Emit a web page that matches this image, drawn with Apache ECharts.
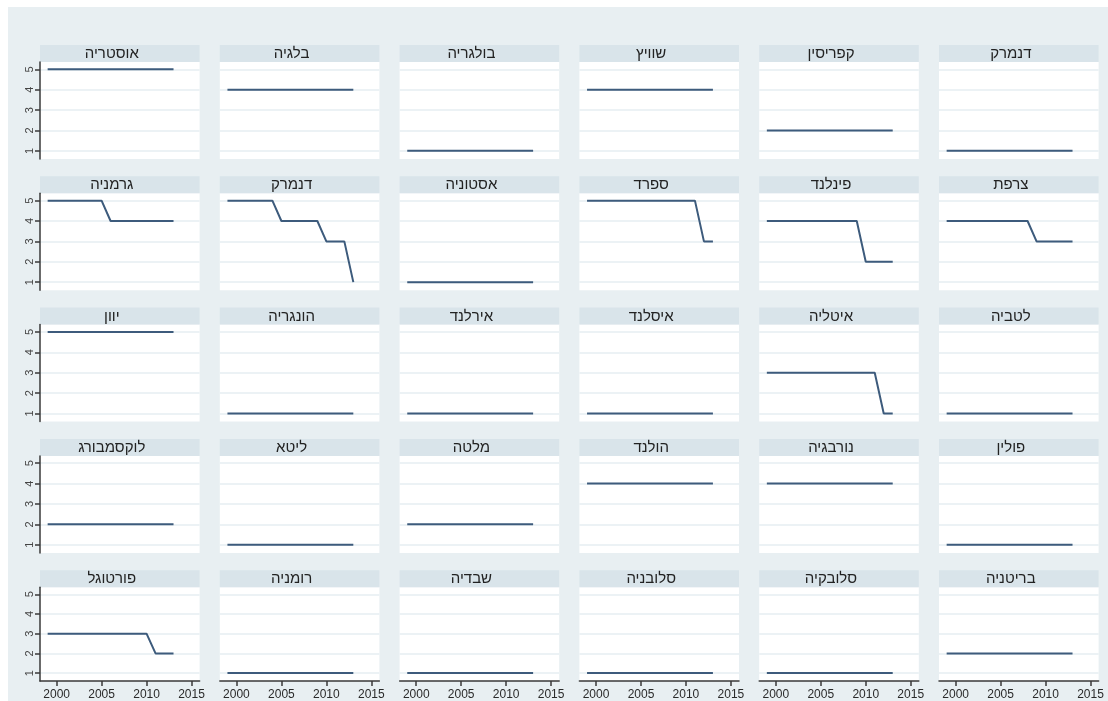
<!DOCTYPE html>
<html><head><meta charset="utf-8">
<script src="https://cdn.jsdelivr.net/npm/echarts@6/dist/echarts.min.js"></script>
<style>
html,body{margin:0;padding:0;background:#fff;}
#bg{position:absolute;left:8px;top:7px;width:1100px;height:694px;background:#e8eff2;}
#chart{position:absolute;left:0;top:0;width:1108px;height:701px;}
</style></head><body>
<div id="bg"></div><div id="chart"></div>
<script>
const years = [1999,2000,2001,2002,2003,2004,2005,2006,2007,2008,2009,2010,2011,2012,2013];
const countryNames = [
  'אוסטריה','בלגיה','בולגריה','שוויץ','קפריסין','דנמרק',
  'גרמניה','דנמרק','אסטוניה','ספרד','פינלנד','צרפת',
  'יוון','הונגריה','אירלנד','איסלנד','איטליה','לטביה',
  'לוקסמבורג','ליטא','מלטה','הולנד','נורבגיה','פולין',
  'פורטוגל','רומניה','שבדיה','סלובניה','סלובקיה','בריטניה'
];
const austria    = [5,5,5,5,5,5,5,5,5,5,5,5,5,5,5];
const belgium    = [4,4,4,4,4,4,4,4,4,4,4,4,4,4,4];
const bulgaria   = [1,1,1,1,1,1,1,1,1,1,1,1,1,1,1];
const switzerland= [4,4,4,4,4,4,4,4,4,4,4,4,4,4,4];
const cyprus     = [2,2,2,2,2,2,2,2,2,2,2,2,2,2,2];
const denmarkA   = [1,1,1,1,1,1,1,1,1,1,1,1,1,1,1];
const germany    = [5,5,5,5,5,5,5,4,4,4,4,4,4,4,4];
const denmarkB   = [5,5,5,5,5,5,4,4,4,4,4,3,3,3,1];
const estonia    = [1,1,1,1,1,1,1,1,1,1,1,1,1,1,1];
const spain      = [5,5,5,5,5,5,5,5,5,5,5,5,5,3,3];
const finland    = [4,4,4,4,4,4,4,4,4,4,4,2,2,2,2];
const france     = [4,4,4,4,4,4,4,4,4,4,3,3,3,3,3];
const greece     = [5,5,5,5,5,5,5,5,5,5,5,5,5,5,5];
const hungary    = [1,1,1,1,1,1,1,1,1,1,1,1,1,1,1];
const ireland    = [1,1,1,1,1,1,1,1,1,1,1,1,1,1,1];
const iceland    = [1,1,1,1,1,1,1,1,1,1,1,1,1,1,1];
const italy      = [3,3,3,3,3,3,3,3,3,3,3,3,3,1,1];
const latvia     = [1,1,1,1,1,1,1,1,1,1,1,1,1,1,1];
const luxembourg = [2,2,2,2,2,2,2,2,2,2,2,2,2,2,2];
const lithuania  = [1,1,1,1,1,1,1,1,1,1,1,1,1,1,1];
const malta      = [2,2,2,2,2,2,2,2,2,2,2,2,2,2,2];
const netherlands= [4,4,4,4,4,4,4,4,4,4,4,4,4,4,4];
const norway     = [4,4,4,4,4,4,4,4,4,4,4,4,4,4,4];
const poland     = [1,1,1,1,1,1,1,1,1,1,1,1,1,1,1];
const portugal   = [3,3,3,3,3,3,3,3,3,3,3,3,2,2,2];
const romania    = [1,1,1,1,1,1,1,1,1,1,1,1,1,1,1];
const sweden     = [1,1,1,1,1,1,1,1,1,1,1,1,1,1,1];
const slovenia   = [1,1,1,1,1,1,1,1,1,1,1,1,1,1,1];
const slovakia   = [1,1,1,1,1,1,1,1,1,1,1,1,1,1,1];
const britain    = [2,2,2,2,2,2,2,2,2,2,2,2,2,2,2];
const panelValues = [
  austria,belgium,bulgaria,switzerland,cyprus,denmarkA,
  germany,denmarkB,estonia,spain,finland,france,
  greece,hungary,ireland,iceland,italy,latvia,
  luxembourg,lithuania,malta,netherlands,norway,poland,
  portugal,romania,sweden,slovenia,slovakia,britain
];
const yTicks = [1,2,3,4,5];
const xTicks = [2000,2005,2010,2015];

const FONT = "'Liberation Sans','DejaVu Sans',sans-serif";
const colLeft0 = 40, colStep = 179.8, colW = 159.6;
const rowTop0 = 45, rowStep = 131.3, titleH = 17, plotH = 97;
const lineColor = '#3d5b7c';
const axisColor = '#3a3a3a';

const grids = [], xAxes = [], yAxes = [], series = [], graphics = [];
panelValues.forEach((vals, i) => {
  const r = Math.floor(i / 6), c = i % 6;
  const left = colLeft0 + c * colStep;
  const top = rowTop0 + r * rowStep;
  grids.push({left: left, top: top + titleH, width: colW, height: plotH,
    show: true, backgroundColor: '#ffffff', borderWidth: 0});
  const bottomRow = r === 4, firstCol = c === 0;
  xAxes.push({type: 'value', gridIndex: i, min: 1998.15, max: 2015.9,
    axisLine: {show: bottomRow, lineStyle: {color: axisColor, width: 1.5}},
    axisTick: {show: bottomRow, length: 5, inside: false, customValues: xTicks, lineStyle: {color: axisColor, width: 1.5}},
    axisLabel: {show: bottomRow, customValues: xTicks, fontSize: 12, color: '#2a2a2a', margin: 8, fontFamily: FONT,
      formatter: v => String(Math.round(v))},
    splitLine: {show: false}});
  yAxes.push({type: 'value', gridIndex: i, min: 0.6, max: 5.36,
    axisLine: {show: firstCol, lineStyle: {color: axisColor, width: 1.5}},
    axisTick: {show: firstCol, length: 5, inside: false, customValues: yTicks, lineStyle: {color: axisColor, width: 1.5}},
    axisLabel: {show: firstCol, customValues: yTicks, rotate: 90, fontSize: 11, color: '#444', margin: 5, fontFamily: FONT,
      formatter: v => String(Math.round(v))},
    splitLine: {show: true, lineStyle: {color: '#e6eef2', width: 1.5}}});
  series.push({type: 'line', xAxisIndex: i, yAxisIndex: i, symbol: 'none',
    lineStyle: {color: lineColor, width: 2}, silent: true, animation: false,
    data: years.map((y, k) => [y, vals[k]])});
  graphics.push({type: 'rect', shape: {x: left, y: top, width: colW, height: titleH},
    style: {fill: '#d9e4ea'}, silent: true});
  graphics.push({type: 'text', x: left + colW / 2 - 8, y: top + titleH / 2 + 0.5,
    style: {text: countryNames[i], fill: '#222', font: '15px ' + FONT, textAlign: 'center', textVerticalAlign: 'middle'}, silent: true});
});

const chart = echarts.init(document.getElementById('chart'), null, {renderer: 'canvas'});
chart.setOption({
  animation: false,
  backgroundColor: 'transparent',
  grid: grids, xAxis: xAxes, yAxis: yAxes, series: series,
  graphic: graphics
});
</script></body></html>
